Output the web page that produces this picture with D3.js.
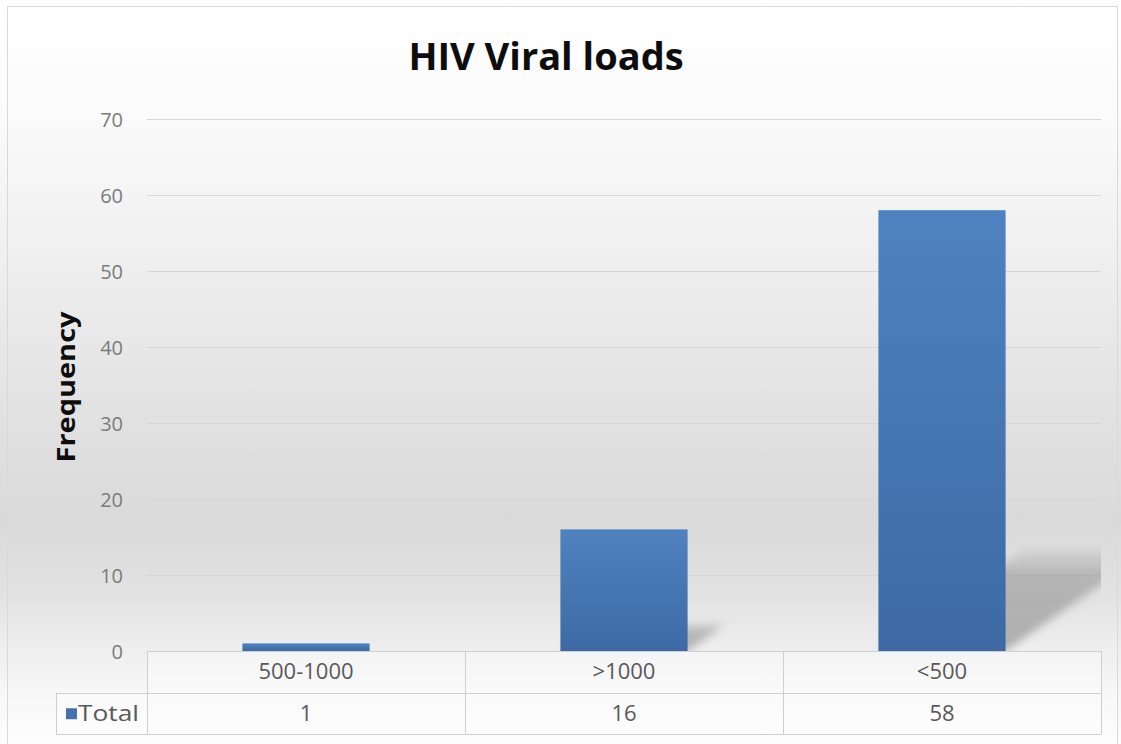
<!DOCTYPE html>
<html>
<head>
<meta charset="utf-8">
<script src="https://cdn.jsdelivr.net/npm/d3@7/dist/d3.min.js"></script>
<style>
  html, body { margin: 0; padding: 0; background: #ffffff; }
  svg { display: block; }
</style>
</head>
<body>
<svg id="chart" width="1121" height="744"></svg>
<script>
// Viral load groups and their counts
const categories = ["500-1000", ">1000", "<500"];
const totals = [1, 16, 58];
const seriesName = "Total";
const yTicks = [0, 10, 20, 30, 40, 50, 60, 70];
const chartTitle = "HIV Viral loads";
const yAxisTitle = "Frequency";

const W = 1121, H = 744;
const plot = { left: 147, right: 1101, top: 119, bottom: 651 };
const rowH = 41.5;
const legendLeft = 56;

const svg = d3.select("#chart");
const defs = svg.append("defs");

// Background: white at the top, grey toward the bars' base, lighter again under the table
const bg = defs.append("linearGradient").attr("id", "bgGrad")
  .attr("x1", 0).attr("y1", 0).attr("x2", 0).attr("y2", 1);
[[0, "#ffffff"], [0.15, "#fbfbfb"], [0.35, "#efefef"], [0.55, "#e2e2e2"],
 [0.7, "#dadada"], [0.8, "#e2e2e2"], [0.87, "#eeeeee"], [0.93, "#f7f7f7"], [1, "#fdfdfd"]]
  .forEach(([o, c]) => bg.append("stop").attr("offset", o).attr("stop-color", c));

const barGrad = defs.append("linearGradient").attr("id", "barGrad")
  .attr("x1", 0).attr("y1", 0).attr("x2", 0).attr("y2", 1);
barGrad.append("stop").attr("offset", 0).attr("stop-color", "#4f82c0");
barGrad.append("stop").attr("offset", 1).attr("stop-color", "#3d6aa4");

const shadowGrad = defs.append("linearGradient").attr("id", "shadowGrad")
  .attr("x1", 0).attr("y1", 1).attr("x2", 0).attr("y2", 0);
shadowGrad.append("stop").attr("offset", 0).attr("stop-color", "#7a7a7a").attr("stop-opacity", 0.55);
shadowGrad.append("stop").attr("offset", 0.75).attr("stop-color", "#8a8a8a").attr("stop-opacity", 0.5);
shadowGrad.append("stop").attr("offset", 1).attr("stop-color", "#9a9a9a").attr("stop-opacity", 0.15);

defs.append("filter").attr("id", "soft")
  .attr("x", "-20%").attr("y", "-20%").attr("width", "140%").attr("height", "140%")
  .append("feGaussianBlur").attr("stdDeviation", 4);

defs.append("clipPath").attr("id", "plotClip")
  .append("rect")
  .attr("x", plot.left).attr("y", plot.top - 20)
  .attr("width", plot.right - plot.left).attr("height", plot.bottom - plot.top + 20);

svg.append("rect").attr("x", 0).attr("y", 0).attr("width", W).attr("height", H)
  .attr("fill", "url(#bgGrad)");
svg.append("rect").attr("x", 7.5).attr("y", 6.5).attr("width", 1110).attr("height", 745)
  .attr("fill", "none").attr("stroke", "#d9d9d9");

// Scales
const x = d3.scaleBand().domain(categories).range([plot.left, plot.right])
  .paddingInner(0).paddingOuter(0);
const barW = x.bandwidth() * 0.4;
const y = d3.scaleLinear().domain([0, 70]).range([plot.bottom, plot.top]);

// Gridlines
svg.append("g")
  .selectAll("line").data(yTicks.filter(t => t > 0)).join("line")
  .attr("x1", plot.left).attr("x2", plot.right)
  .attr("y1", d => Math.round(y(d)) + 0.5).attr("y2", d => Math.round(y(d)) + 0.5)
  .attr("stroke", "#d6d6d6").attr("stroke-width", 1);

// Y axis tick labels
const yAxis = d3.axisLeft(y).tickValues(yTicks).tickSize(0).tickPadding(0);
const yg = svg.append("g").attr("transform", `translate(123,0)`).call(yAxis);
yg.select(".domain").remove();
yg.selectAll("text")
  .attr("font-family", "'Open Sans', sans-serif").attr("font-size", 20)
  .attr("fill", "#7b7b7b").attr("dy", "0.35em");

// Cast shadows lying behind the bars
const shadows = svg.append("g").attr("clip-path", "url(#plotClip)");
shadows.selectAll("polygon").data(totals).join("polygon")
  .attr("points", (d, i) => {
    const x0 = x(categories[i]) + (x.bandwidth() - barW) / 2;
    const x1 = x0 + barW;
    const h = y(0) - y(d);
    const dx = 0.33 * h, dy = 0.23 * h;
    const base = y(0);
    return [[x0, base], [x1, base], [x1 + dx, base - dy], [x0 + dx, base - dy]]
      .map(p => p.join(",")).join(" ");
  })
  .attr("fill", "url(#shadowGrad)")
  .attr("filter", "url(#soft)");

// Bars
svg.append("g").selectAll("rect").data(totals).join("rect")
  .attr("x", (d, i) => x(categories[i]) + (x.bandwidth() - barW) / 2)
  .attr("width", barW)
  .attr("y", d => y(d))
  .attr("height", d => y(0) - y(d))
  .attr("fill", "url(#barGrad)");

// Data table under the plot
const table = svg.append("g");
const tTop = plot.bottom, tMid = plot.bottom + rowH, tBot = plot.bottom + 2 * rowH;
table.append("rect").attr("x", legendLeft).attr("y", tMid)
  .attr("width", plot.left - legendLeft).attr("height", rowH)
  .attr("fill", "#ffffff").attr("fill-opacity", 0.35);
table.append("rect").attr("x", plot.left).attr("y", tTop)
  .attr("width", plot.right - plot.left).attr("height", 2 * rowH)
  .attr("fill", "#ffffff").attr("fill-opacity", 0.35);

const lineColor = "#cfcfcf";
const hLines = [
  [plot.left, plot.right, tTop],
  [legendLeft, plot.right, tMid],
  [legendLeft, plot.right, tBot]
];
table.selectAll("line.h").data(hLines).join("line").attr("class", "h")
  .attr("x1", d => d[0]).attr("x2", d => d[1])
  .attr("y1", d => Math.round(d[2]) + 0.5).attr("y2", d => Math.round(d[2]) + 0.5)
  .attr("stroke", lineColor);
const vLinesX = [plot.left, ...categories.slice(1).map(c => x(c)), plot.right];
table.selectAll("line.v").data(vLinesX).join("line").attr("class", "v")
  .attr("x1", d => Math.round(d) + 0.5).attr("x2", d => Math.round(d) + 0.5)
  .attr("y1", tTop).attr("y2", tBot)
  .attr("stroke", lineColor);
table.append("line")
  .attr("x1", legendLeft + 0.5).attr("x2", legendLeft + 0.5)
  .attr("y1", tMid).attr("y2", tBot).attr("stroke", lineColor);

const tableFont = "'Open Sans', sans-serif";
table.selectAll("text.cat").data(categories).join("text").attr("class", "cat")
  .attr("x", d => x(d) + x.bandwidth() / 2)
  .attr("y", tTop + rowH / 2)
  .attr("dy", "0.35em")
  .attr("text-anchor", "middle")
  .attr("font-family", tableFont).attr("font-size", 22)
  .attr("fill", "#595959")
  .text(d => d);
table.selectAll("text.val").data(totals).join("text").attr("class", "val")
  .attr("x", (d, i) => x(categories[i]) + x.bandwidth() / 2)
  .attr("y", tMid + rowH / 2)
  .attr("dy", "0.35em")
  .attr("text-anchor", "middle")
  .attr("font-family", tableFont).attr("font-size", 22)
  .attr("fill", "#595959")
  .text(d => d);

// Legend key in the table's first column
table.append("rect").attr("x", 66).attr("y", tMid + rowH / 2 - 5)
  .attr("width", 11).attr("height", 11).attr("fill", "#4572ad");
table.append("text")
  .attr("x", 78).attr("y", tMid + rowH / 2).attr("dy", "0.35em")
  .attr("font-family", tableFont).attr("font-size", 22)
  .attr("fill", "#595959")
  .attr("textLength", 61).attr("lengthAdjust", "spacingAndGlyphs")
  .text(seriesName);

// Titles
svg.append("text")
  .attr("x", 546).attr("y", 70)
  .attr("text-anchor", "middle")
  .attr("font-family", "'Open Sans', sans-serif").attr("font-weight", 700)
  .attr("font-size", 38).attr("fill", "#0d0d0d")
  .text(chartTitle);

svg.append("text")
  .attr("transform", "translate(75,387) rotate(-90)")
  .attr("text-anchor", "middle")
  .attr("font-family", "'Open Sans', sans-serif").attr("font-weight", 700)
  .attr("font-size", 25).attr("fill", "#0d0d0d")
  .attr("textLength", 151).attr("lengthAdjust", "spacingAndGlyphs")
  .text(yAxisTitle);
</script>
</body>
</html>
